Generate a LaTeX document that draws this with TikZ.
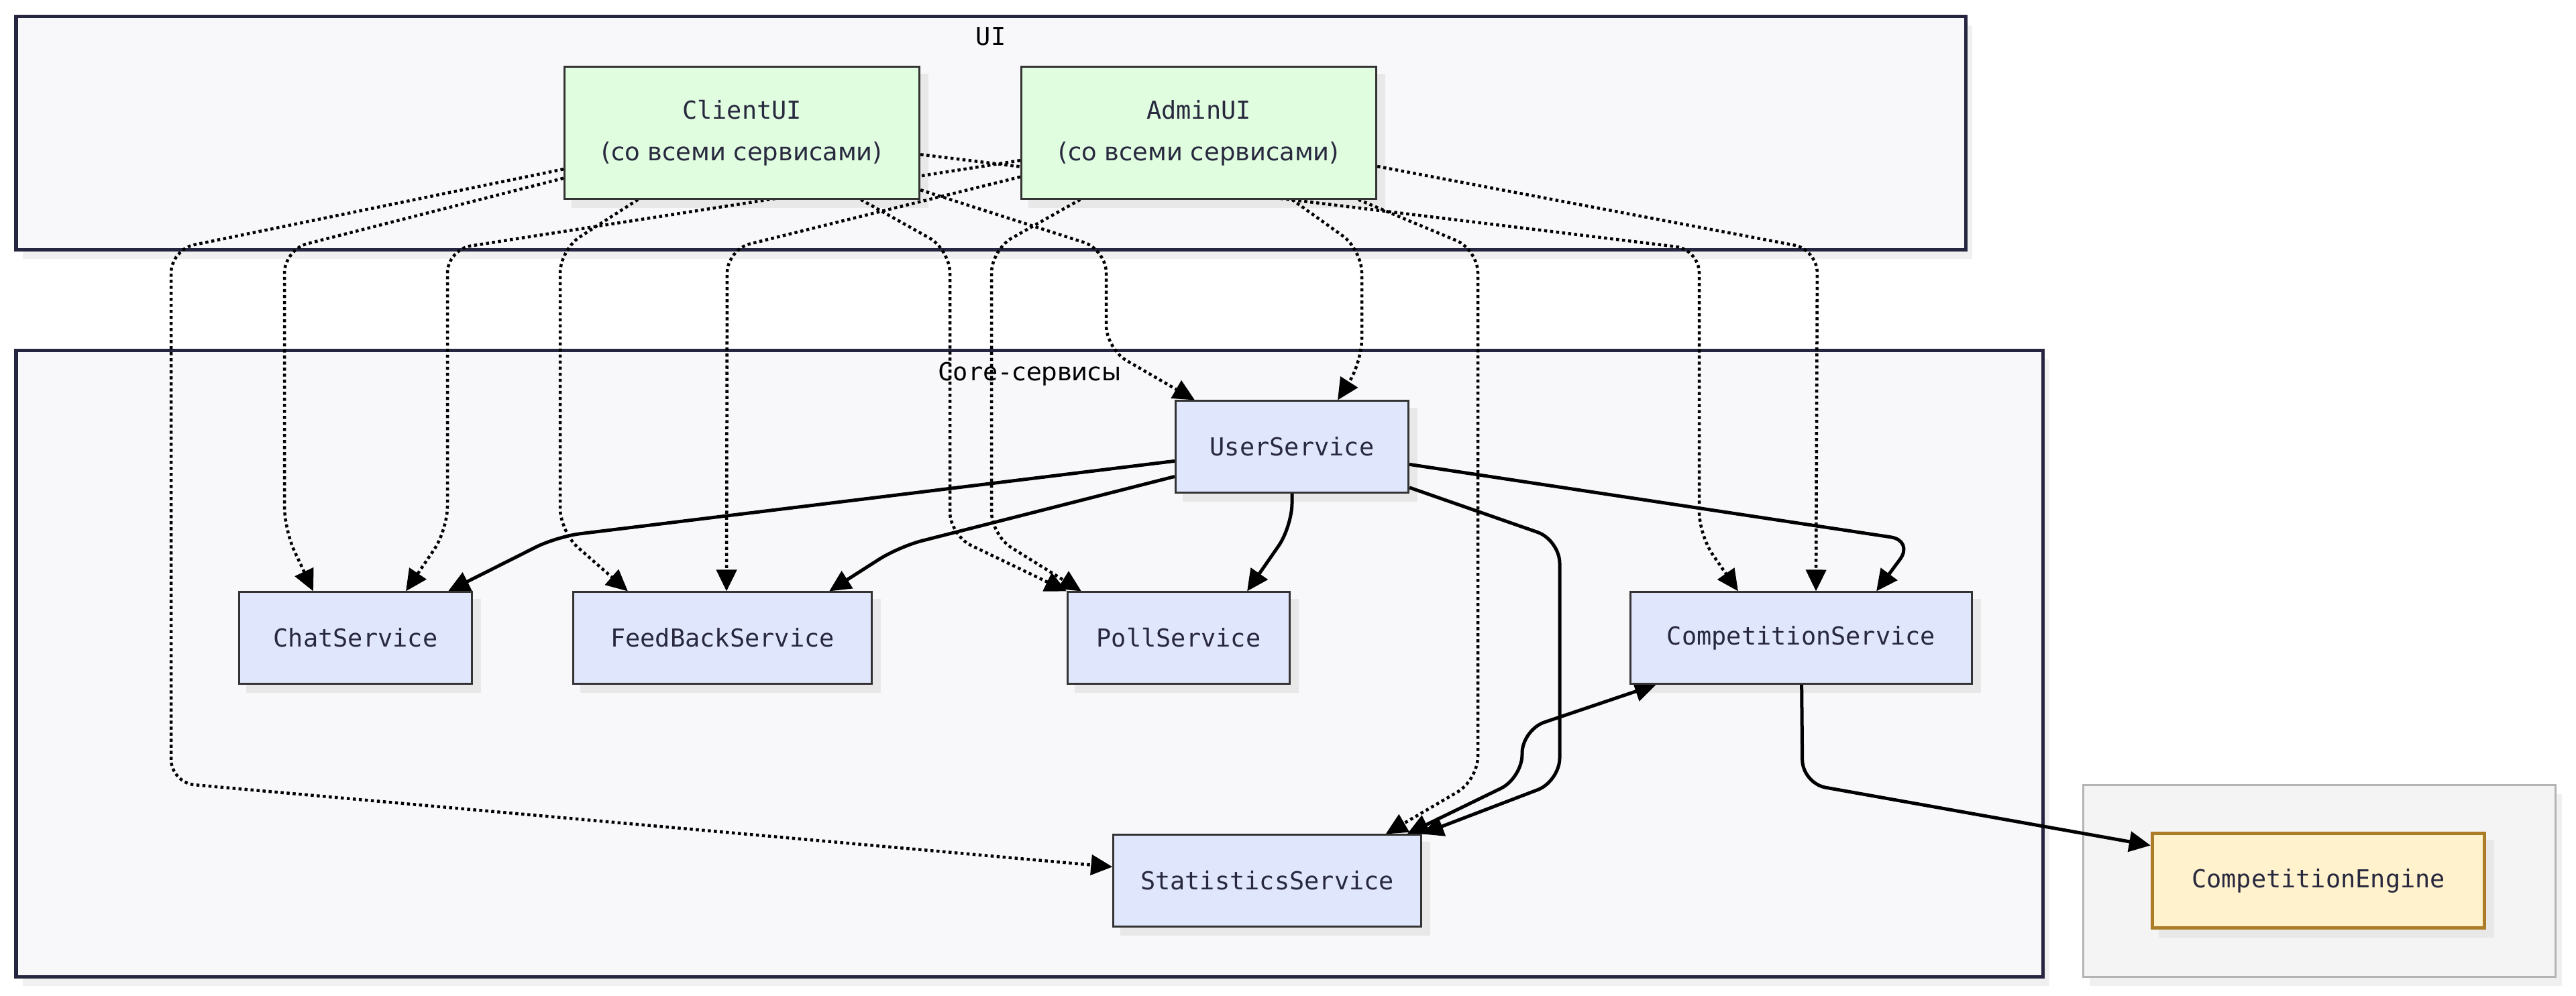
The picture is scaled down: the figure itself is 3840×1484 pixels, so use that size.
\documentclass[tikz,border=0pt]{standalone}
\usepackage{fontspec}
\setmonofont{DejaVu Sans Mono}
\newfontfamily\cyrfont{DejaVu Sans}
\usetikzlibrary{arrows.meta, shadows}

\definecolor{clusterbg}{RGB}{248,248,250}
\definecolor{clusterline}{RGB}{38,38,64}
\definecolor{uibg}{RGB}{224,253,224}
\definecolor{svcbg}{RGB}{224,230,252}
\definecolor{nodeline}{RGB}{51,51,51}
\definecolor{enginebg}{RGB}{255,242,204}
\definecolor{engineline}{RGB}{172,124,38}
\definecolor{extbg}{RGB}{244,244,244}
\definecolor{extline}{RGB}{180,180,180}
\definecolor{txt}{RGB}{40,40,62}

\pgfdeclarelayer{back}
\pgfdeclarelayer{edges}
\pgfsetlayers{back,edges,main}

\begin{document}
\begin{tikzpicture}[x=0.01cm, y=-0.01cm]

\tikzset{cluster/.style = {draw=clusterline, fill=clusterbg, line width=0.05cm,
  drop shadow={shadow xshift=0.1cm, shadow yshift=-0.14cm, fill=black!6, opacity=1}}}
\tikzset{extcluster/.style = {cluster, draw=extline, fill=extbg, line width=0.03cm}}
\tikzset{box/.style = {rectangle, draw=nodeline, line width=0.03cm, text=txt, align=center,
  inner sep=0pt, font=\ttfamily\fontsize{10.5}{17.6}\selectfont}}
\tikzset{uibox/.style = {box, fill=uibg, minimum width=5.29cm, minimum height=1.96cm}}
\tikzset{svc/.style = {box, fill=svcbg, minimum height=1.36cm}}
\tikzset{enginebox/.style = {box, fill=enginebg, draw=engineline, line width=0.05cm,
  minimum width=4.95cm, minimum height=1.4cm}}
\tikzset{title/.style = {anchor=base, font=\ttfamily\fontsize{10.5}{12}\selectfont}}
\tikzset{head/.tip = {Triangle[length=0.32cm, width=0.3cm]}}
\tikzset{dep/.style = {-head, line width=0.045cm, dash pattern=on 0.045cm off 0.045cm, rounded corners=0.35cm}}
\tikzset{link/.style = {-head, line width=0.05cm, rounded corners=0.35cm}}

\useasboundingbox (0,0) rectangle (3840,1484);

%clusters
\begin{pgfonlayer}{back}
\fill[white] (0,0) rectangle (3840,1484);
\draw[cluster] (24,24) rectangle (2930,372);
\draw[cluster] (24,522) rectangle (3045,1456);
\draw[extcluster] (3105,1170) rectangle (3809,1456);
\end{pgfonlayer}
\node[title] (uititle) at (1477,67) {UI};
\node[title] (coretitle) at (1535,567) {Core-{\cyrfont сервисы}};

%verticies
\node[uibox] (client) at (1106,198) {ClientUI\\{\cyrfont(со всеми сервисами)}};
\node[uibox] (admin) at (1787,198) {AdminUI\\{\cyrfont(со всеми сервисами)}};
\node[svc, minimum width=3.47cm] (user) at (1926,666) {UserService};
\node[svc, minimum width=3.47cm] (chat) at (530,951) {ChatService};
\node[svc, minimum width=4.45cm] (feedback) at (1077,951) {FeedBackService};
\node[svc, minimum width=3.31cm] (poll) at (1757,951) {PollService};
\node[svc, minimum width=5.09cm] (comp) at (2685,951) {CompetitionService};
\node[svc, minimum width=4.58cm] (stats) at (1889,1313) {StatisticsService};
\node[enginebox] (engine) at (3456,1313) {CompetitionEngine};

%shadows, under the edges
\begin{pgfonlayer}{back}
\foreach \n in {client,admin,user,chat,feedback,poll,comp,stats,engine}
  \fill[black!9] ([shift={(12,12)}]\n.north west) rectangle ([shift={(12,12)}]\n.south east);
\end{pgfonlayer}

%edges
\begin{pgfonlayer}{edges}
\draw[dep] (client) -- (255,372) -- (255,1167) -- (stats);
\draw[dep] (client) -- (424,372) -- (424,790) -- ([xshift=1.12cm]chat.north west);
\draw[dep] (client) -- (835,372) -- (835,793) -- ([xshift=0.83cm]feedback.north west);
\draw[dep] (client) -- (1416,372) -- (1416,798) -- (poll.north west);
\draw[dep] (client) -- (1649,372) -- (1649,520) -- ([xshift=0.3cm]user.north west);
\draw[dep] (client) -- (2533,372) -- (2533,798) -- ([xshift=1.62cm]comp.north west);

\draw[dep] (admin) -- (667,372) -- (667,790) -- ([xshift=2.5cm]chat.north west);
\draw[dep] (admin) -- (1084,372) -- ([xshift=2.3cm]feedback.north west);
\draw[dep] (admin) -- (1478,372) -- (1478,798) -- ([xshift=0.22cm]poll.north west);
\draw[dep] (admin) -- (2030,372) -- (2030,540) -- ([xshift=2.43cm]user.north west);
\draw[dep] (admin) -- (2709,372) -- ([xshift=2.78cm]comp.north west);
\draw[dep] (admin) -- (2203,372) -- (2203,1163) -- ([xshift=4.07cm]stats.north west);

\draw[link] (user) -- (830,800) -- ([xshift=3.13cm]chat.north west);
\draw[link] (user) -- (1340,815) -- ([xshift=3.83cm]feedback.north west);
\draw[link] (user) -- (1926,785) -- ([xshift=2.69cm]poll.north west);
\draw[link] (user) -- (2853,806) -- ([xshift=3.68cm]comp.north west);
\draw[link] (user) -- (2325,805) -- (2325,1165) -- (stats.north east);
\draw[link, head-head] ([xshift=0.4cm]comp.south west) -- (2269,1088) -- (2269,1160) -- ([xshift=-0.22cm]stats.north east);
\draw[link] (comp) -- (2687,1168) -- ([yshift=-0.2cm]engine.north west);
\end{pgfonlayer}

\end{tikzpicture}
\end{document}
